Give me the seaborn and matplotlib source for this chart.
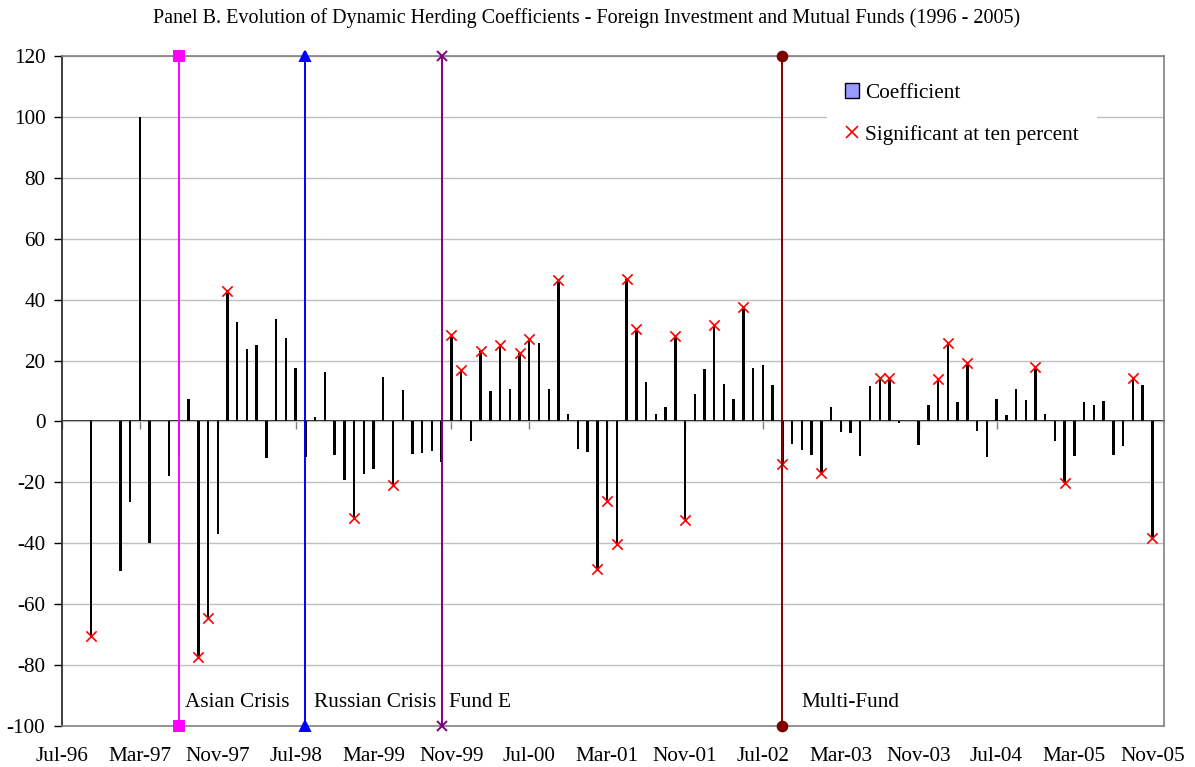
import pandas as pd
import numpy as np
import matplotlib
matplotlib.use('Agg')
import matplotlib.pyplot as plt
import seaborn as sns
from matplotlib.patches import Patch
from matplotlib.lines import Line2D

# monthly herding coefficients, Oct-96 .. Nov-05 (None = no estimate)
first_month = '1996-10'
coef = [
    -70.3, None, None, -49.0, -26.3, 100.0, -40.0, None, -17.8, -11.0,   # Oct-96 .. Jul-97
    7.3, -77.4, -64.6, -36.9, 42.8, 32.5, 23.9, 25.0, -12.1, 33.7,       # Aug-97 .. May-98
    27.4, 17.7, -11.7, 1.3, 16.4, -11.1, -19.3, -31.6, -17.2, -15.6,     # Jun-98 .. Mar-99
    14.6, -21.0, 10.3, -10.6, -10.3, -9.7, -13.3, 28.4, 16.9, -6.4,      # Apr-99 .. Jan-00
    23.1, 9.9, 25.1, 10.7, 22.4, 27.0, 25.7, 10.7, 46.3, 2.5,            # Feb-00 .. Nov-00
    -9.0, -10.1, -48.3, -26.0, -40.4, 46.8, 30.4, 12.9, 2.4, 4.6,        # Dec-00 .. Sep-01
    28.2, -32.5, 9.1, 17.2, 31.7, 12.3, 7.4, 37.6, 17.7, 18.6,           # Oct-01 .. Jul-02
    12.0, -14.0, -7.3, -9.5, -10.9, -16.9, 4.8, -3.3, -3.7, -11.4,       # Aug-02 .. May-03
    11.8, 14.2, 14.2, -0.5, 0.3, -7.6, 5.5, 13.8, 25.9, 6.3,             # Jun-03 .. Mar-04
    19.2, -3.1, -11.7, 7.3, 2.2, 10.7, 7.1, 18.0, 2.5, -6.4,             # Apr-04 .. Jan-05
    -20.1, -11.4, 6.3, 5.5, 6.6, -11.0, -8.1, 14.2, 11.9, -38.3,         # Feb-05 .. Nov-05
]
# significant at ten percent
significant = [
    1, 0, 0, 0, 0, 0, 0, 0, 0, 0,
    0, 1, 1, 0, 1, 0, 0, 0, 0, 0,
    0, 0, 0, 0, 0, 0, 0, 1, 0, 0,
    0, 1, 0, 0, 0, 0, 0, 1, 1, 0,
    1, 0, 1, 0, 1, 1, 0, 0, 1, 0,
    0, 0, 1, 1, 1, 1, 1, 0, 0, 0,
    1, 1, 0, 0, 1, 0, 0, 1, 0, 0,
    0, 1, 0, 0, 0, 1, 0, 0, 0, 0,
    0, 1, 1, 0, 0, 0, 0, 1, 1, 0,
    1, 0, 0, 0, 0, 0, 0, 1, 0, 0,
    1, 0, 0, 0, 0, 0, 0, 1, 0, 1,
]

tick_labels = ['Jul-96', 'Mar-97', 'Nov-97', 'Jul-98', 'Mar-99', 'Nov-99', 'Jul-00',
               'Mar-01', 'Nov-01', 'Jul-02', 'Mar-03', 'Nov-03', 'Jul-04', 'Mar-05', 'Nov-05']

events = ['Asian Crisis', 'Russian Crisis', 'Fund E', 'Multi-Fund']
event_dates = ['1997-07', '1998-08', '1999-10', '2002-09']
event_colors = ['#FF00FF', '#0000FF', '#800080', '#800000']
event_markers = ['s', '^', 'x', 'o']

title = 'Panel B. Evolution of Dynamic Herding Coefficients - Foreign Investment and Mutual Funds (1996 - 2005)'

# month index counted from Jul-96
base = pd.Timestamp('1996-07-01')
def month_idx(d):
    d = pd.Timestamp(d)
    return (d.year - base.year) * 12 + d.month - base.month

dates = pd.date_range(first_month, periods=len(coef), freq='MS')
df = pd.DataFrame({'month': [month_idx(d) for d in dates],
                   'coef': coef, 'sig': significant}).dropna()
df['coef'] = df['coef'].astype(float)

sns.set_theme(style='white')
plt.rcParams['font.family'] = ['Liberation Serif', 'DejaVu Serif']
plt.rcParams.update({'axes.unicode_minus': False, 'text.color': 'black',
                     'xtick.color': 'black', 'ytick.color': 'black'})

fs = 15.3

fig = plt.figure(figsize=(11.95, 7.67), dpi=100)
ax = fig.add_axes([62 / 1195, 1 - 726 / 767, (1164 - 62) / 1195, 670 / 767])

ymin, ymax = -100, 120
ax.set_ylim(ymin, ymax)
ax.set_xlim(0, 113.2)
ax.set_yticks(range(ymin, ymax + 1, 20))
ax.yaxis.grid(True, color='#C0C0C0', lw=1)
ax.set_axisbelow(True)

sns.barplot(data=df, x='month', y='coef', native_scale=True, width=0.25,
            color='black', saturation=1, linewidth=0, ax=ax, zorder=2)

sns.scatterplot(data=df[df['sig'] == 1], x='month', y='coef', marker='x',
                color='#FF0000', s=55, linewidth=1.2, ax=ax, zorder=4, legend=False)

# event lines with end markers
offsets = [0.6, 0.9, 0.8, 2.0]
for name, d, c, m, off in zip(events, event_dates, event_colors, event_markers, offsets):
    xe = month_idx(d)
    ax.plot([xe, xe], [ymin, ymax], color=c, lw=1.4, marker=m, ms=7,
            mew=1.4, clip_on=False, zorder=5)
    ax.text(xe + off, -92.3, name, fontsize=fs, ha='left', va='center')

# zero axis line with tick stubs
sec = ax.secondary_xaxis((0 - ymin) / (ymax - ymin))
sec.set_alignment('bottom')
sec.set_xticks(range(0, 113, 8))
sec.tick_params(axis='x', length=6, width=1, color='#808080', labelbottom=False,
                labeltop=False, direction='out')
for s in sec.spines.values():
    s.set_color('black')
    s.set_linewidth(1.3)

ax.set_xticks(range(0, 113, 8))
ax.set_xticklabels(tick_labels, fontsize=fs)
ax.tick_params(axis='x', length=0, pad=15)
ax.tick_params(axis='y', labelsize=fs, length=6, width=1, color='black',
               left=True, pad=6)
ax.set_xlabel('')
ax.set_ylabel('')

for side in ['top', 'right', 'bottom']:
    ax.spines[side].set_color('#808080')
    ax.spines[side].set_linewidth(1.2)
ax.spines['left'].set_color('#303030')
ax.spines['left'].set_linewidth(1.3)

handles = [Patch(facecolor='#9999FF', edgecolor='black', lw=1),
           Line2D([], [], marker='x', color='#FF0000', ls='none', ms=8, mew=1.2)]
leg = ax.legend(handles, ['Coefficient', 'Significant at ten percent'],
                loc='upper left', bbox_to_anchor=(0.694, 0.986), frameon=True,
                fancybox=False, framealpha=1, edgecolor='white', fontsize=fs,
                labelspacing=1.02, handlelength=0.65, handleheight=0.65,
                handletextpad=0.3, borderpad=0.85, borderaxespad=0)
leg.get_frame().set_linewidth(0)

fig.text(0.4905, 0.976, title, ha='center', va='center', fontsize=14.5)

fig.savefig('out.png', dpi=100, facecolor='white')
